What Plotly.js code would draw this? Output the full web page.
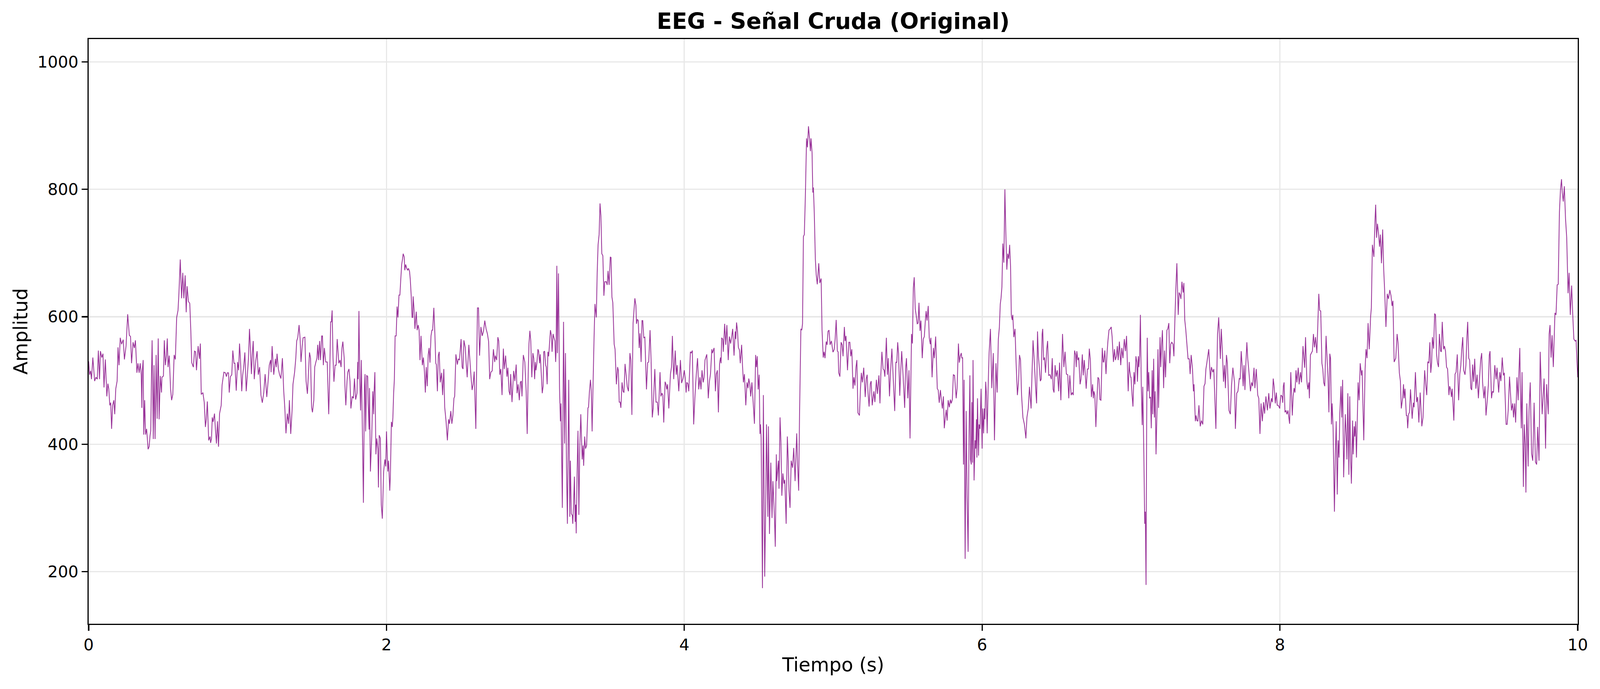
<!DOCTYPE html>
<html>
<head>
<meta charset="utf-8">
<script src="https://cdn.plot.ly/plotly-3.0.1.min.js"></script>
<style>
  html, body { margin: 0; padding: 0; background: #fff; overflow: hidden; }
  #plot { width: 100vw; height: 100vh; }
</style>
</head>
<body>
<div id="plot"></div>
<script>
// EEG raw signal, one second at a time (t in s, amplitude)
const t0 = [
  0.000,0.006,0.013,0.019,0.028,0.040,0.049,0.058,0.065,0.073,
  0.079,0.088,0.096,0.103,0.112,0.122,0.129,0.135,0.142,0.148,
  0.154,0.161,0.169,0.175,0.182,0.191,0.197,0.204,0.212,0.221,
  0.232,0.240,0.251,0.262,0.273,0.281,0.288,0.298,0.307,0.314,
  0.324,0.331,0.339,0.346,0.353,0.357,0.360,0.366,0.370,0.376,
  0.382,0.389,0.393,0.399,0.406,0.412,0.417,0.422,0.426,0.434,
  0.439,0.446,0.453,0.460,0.467,0.473,0.481,0.489,0.492,0.502,
  0.508,0.515,0.522,0.528,0.533,0.541,0.550,0.557,0.565,0.574,
  0.582,0.591,0.600,0.606,0.615,0.624,0.632,0.639,0.648,0.655,
  0.661,0.670,0.679,0.686,0.692,0.703,0.711,0.718,0.724,0.735,
  0.744,0.750,0.756,0.767,0.776,0.784,0.790,0.797,0.806,0.815,
  0.819,0.825,0.830,0.836,0.845,0.851,0.858,0.865,0.872,0.879,
  0.890,0.896,0.908,0.918,0.925,0.931,0.939,0.944,0.952,0.961,
  0.968,0.976,0.982,0.991
];
const a0 = [
  530,509,515,502,536,499,505,502,547,502,
  546,536,542,489,533,475,495,487,461,465,
  424,461,469,447,487,499,552,524,567,557,
  564,533,554,604,571,569,527,560,551,563,
  512,527,512,527,509,457,515,532,415,469,
  415,424,412,392,396,413,421,510,563,408,
  524,408,540,440,566,439,507,481,505,507,
  563,524,539,566,521,539,487,469,478,540,
  533,599,610,636,690,629,669,629,665,607,
  648,624,621,578,528,521,546,545,516,554,
  534,558,478,481,466,427,439,467,406,412,
  402,409,442,435,448,424,401,436,396,448,
  461,493,513,512,506,512,512,481,506,509,
  547,527,527,484
];

const t1 = [
  1.000,1.007,1.013,1.019,1.028,1.034,1.041,1.049,1.058,1.067,
  1.073,1.080,1.086,1.093,1.099,1.105,1.112,1.122,1.131,1.139,
  1.148,1.157,1.166,1.176,1.185,1.196,1.205,1.213,1.222,1.225,
  1.232,1.243,1.254,1.260,1.265,1.274,1.282,1.291,1.301,1.310,
  1.317,1.325,1.334,1.342,1.348,1.357,1.366,1.372,1.383,1.391,
  1.397,1.404,1.413,1.420,1.426,1.434,1.440,1.452,1.460,1.469,
  1.477,1.483,1.490,1.497,1.503,1.512,1.518,1.526,1.533,1.538,
  1.544,1.551,1.557,1.565,1.570,1.576,1.583,1.592,1.602,1.612,
  1.618,1.625,1.630,1.635,1.641,1.647,1.655,1.662,1.669,1.680,
  1.688,1.695,1.701,1.707,1.716,1.721,1.727,1.735,1.740,1.748,
  1.755,1.761,1.770,1.778,1.785,1.793,1.802,1.807,1.810,1.815,
  1.821,1.826,1.831,1.839,1.845,1.852,1.856,1.860,1.867,1.874,
  1.877,1.883,1.886,1.892,1.901,1.908,1.914,1.916,1.922,1.929,
  1.935,1.942,1.946,1.951,1.959,1.965,1.972,1.981,1.989,1.995
];
const a1 = [
  529,516,558,535,483,508,521,544,483,513,
  534,581,552,510,542,562,502,531,546,509,
  521,477,465,481,510,474,499,524,532,513,
  554,509,534,521,542,518,509,503,535,483,
  458,417,448,432,469,416,453,494,513,535,
  562,567,587,565,529,554,567,568,499,479,
  516,544,535,458,450,469,521,529,535,556,
  532,562,532,570,570,524,551,529,529,447,
  499,592,592,610,535,498,524,524,565,527,
  532,521,551,561,535,491,461,499,513,518,
  499,456,475,472,503,470,480,529,502,609,
  497,453,532,409,308,491,510,420,508,506,
  464,423,488,357,412,483,447,477,513,384,
  409,393,332,414,409,305,283,357,376,365
];

const t2 = [
  2.000,2.009,2.014,2.022,2.026,2.033,2.039,2.043,2.048,2.053,
  2.058,2.065,2.071,2.077,2.084,2.090,2.096,2.102,2.108,2.112,
  2.119,2.123,2.129,2.136,2.142,2.148,2.155,2.160,2.166,2.172,
  2.176,2.179,2.185,2.191,2.200,2.206,2.213,2.219,2.225,2.232,
  2.241,2.248,2.255,2.261,2.267,2.274,2.280,2.286,2.292,2.299,
  2.305,2.310,2.318,2.325,2.331,2.335,2.342,2.348,2.354,2.361,
  2.370,2.377,2.385,2.391,2.400,2.409,2.417,2.423,2.432,2.439,
  2.446,2.453,2.458,2.466,2.476,2.482,2.490,2.501,2.508,2.514,
  2.520,2.529,2.535,2.542,2.553,2.561,2.568,2.575,2.582,2.589,
  2.600,2.611,2.618,2.625,2.634,2.643,2.652,2.660,2.669,2.678,
  2.686,2.693,2.701,2.710,2.718,2.727,2.731,2.740,2.748,2.754,
  2.761,2.768,2.776,2.785,2.791,2.800,2.809,2.815,2.823,2.830,
  2.834,2.843,2.854,2.862,2.871,2.877,2.884,2.892,2.899,2.905,
  2.910,2.919,2.929,2.938,2.945,2.951,2.957,2.963,2.969,2.976,
  2.983,2.989,2.995
];
const a2 = [
  420,357,374,327,349,435,427,442,480,502,
  570,570,616,599,634,634,659,682,691,699,
  694,673,682,676,673,676,671,658,633,599,
  599,632,612,581,608,579,587,579,532,570,
  524,536,513,481,521,491,540,551,528,570,
  579,579,614,573,527,525,483,539,545,497,
  512,477,518,458,436,406,439,432,452,432,
  445,472,475,541,525,534,532,565,521,518,
  563,552,528,505,556,529,505,485,494,514,
  424,614,614,539,584,570,578,594,581,573,
  561,502,513,515,549,529,539,532,568,562,
  509,518,477,550,518,539,506,520,483,477,
  510,466,515,499,525,480,494,469,497,499,
  475,540,529,483,416,502,558,578,562,505,
  543,535,502
];

const t3 = [
  3.000,3.004,3.010,3.017,3.022,3.028,3.033,3.039,3.046,3.052,
  3.056,3.062,3.069,3.073,3.079,3.084,3.089,3.095,3.101,3.108,
  3.112,3.119,3.125,3.131,3.136,3.139,3.144,3.148,3.155,3.162,
  3.168,3.172,3.181,3.189,3.196,3.202,3.209,3.215,3.224,3.231,
  3.235,3.241,3.248,3.251,3.256,3.262,3.267,3.271,3.274,3.280,
  3.286,3.292,3.298,3.305,3.314,3.320,3.324,3.331,3.337,3.344,
  3.353,3.357,3.363,3.370,3.375,3.381,3.387,3.394,3.400,3.409,
  3.415,3.421,3.428,3.434,3.440,3.446,3.453,3.460,3.466,3.476,
  3.482,3.488,3.495,3.503,3.508,3.514,3.520,3.529,3.535,3.544,
  3.552,3.557,3.563,3.569,3.574,3.582,3.589,3.595,3.602,3.611,
  3.617,3.625,3.635,3.641,3.648,3.656,3.668,3.675,3.679,3.685,
  3.691,3.697,3.703,3.710,3.716,3.721,3.728,3.735,3.746,3.754,
  3.761,3.770,3.777,3.785,3.791,3.802,3.810,3.819,3.826,3.837,
  3.843,3.850,3.856,3.862,3.871,3.877,3.882,3.888,3.896,3.907,
  3.914,3.920,3.929,3.939,3.946,3.952,3.963,3.974,3.982,3.991
];
const a3 = [
  529,516,527,549,546,527,541,513,480,491,
  545,546,524,521,494,545,538,558,579,570,
  545,573,567,562,529,546,680,543,668,488,
  436,464,300,592,401,543,363,275,501,286,
  374,291,288,275,302,349,278,305,260,354,
  421,289,395,447,376,398,366,412,393,398,
  457,458,483,501,485,420,491,567,620,599,
  669,713,729,778,759,699,696,633,655,655,
  650,672,650,694,693,631,622,557,549,494,
  521,516,466,466,457,497,483,481,526,505,
  490,483,543,532,446,590,629,618,589,596,
  594,551,574,529,594,594,567,568,486,528,
  529,579,532,442,456,518,466,466,445,513,
  475,480,477,434,498,494,486,494,456,510,
  521,570,502,547,509,524,483,532,496,503
];

const t4 = [
  4.000,4.007,4.012,4.017,4.024,4.030,4.034,4.041,4.047,4.054,
  4.063,4.071,4.077,4.084,4.089,4.097,4.105,4.112,4.119,4.127,
  4.133,4.139,4.151,4.161,4.169,4.176,4.185,4.189,4.200,4.209,
  4.215,4.222,4.229,4.237,4.243,4.247,4.251,4.258,4.262,4.271,
  4.278,4.286,4.295,4.303,4.311,4.318,4.325,4.334,4.342,4.346,
  4.351,4.357,4.363,4.370,4.376,4.385,4.391,4.397,4.404,4.413,
  4.421,4.428,4.433,4.440,4.446,4.454,4.465,4.471,4.479,4.484,
  4.490,4.496,4.503,4.508,4.512,4.516,4.525,4.531,4.540,4.546,
  4.552,4.561,4.565,4.572,4.581,4.589,4.595,4.602,4.606,4.611,
  4.618,4.621,4.626,4.632,4.636,4.643,4.649,4.655,4.662,4.669,
  4.675,4.684,4.692,4.698,4.703,4.710,4.718,4.727,4.735,4.744,
  4.755,4.761,4.768,4.774,4.783,4.789,4.794,4.800,4.806,4.813,
  4.821,4.827,4.834,4.841,4.847,4.851,4.858,4.863,4.867,4.873,
  4.880,4.886,4.893,4.903,4.910,4.919,4.925,4.933,4.939,4.945,
  4.953,4.959,4.965,4.972,4.979,4.988,4.998
];
const a4 = [
  516,502,481,497,495,483,505,545,543,547,
  431,472,497,521,535,486,505,486,516,497,
  505,532,541,472,499,510,549,543,551,483,
  510,516,450,527,536,527,567,565,545,589,
  556,587,532,569,558,568,581,539,577,565,
  591,579,552,548,527,556,523,497,510,461,
  497,488,503,494,475,497,456,432,540,521,
  538,486,509,416,431,410,174,477,192,291,
  431,286,428,259,371,284,342,305,281,239,
  384,342,357,374,330,442,404,319,354,338,
  344,275,412,376,327,300,374,363,394,342,
  417,368,327,447,581,579,589,726,729,789,
  880,866,899,880,860,880,858,795,803,762,
  691,666,651,684,653,660,579,536,545,535,
  561,556,577,579,556,562,545
];

const t5 = [
  5.000,5.007,5.013,5.020,5.028,5.033,5.037,5.045,5.053,5.060,
  5.066,5.075,5.080,5.086,5.096,5.105,5.112,5.118,5.125,5.133,
  5.139,5.146,5.153,5.159,5.166,5.172,5.176,5.183,5.189,5.196,
  5.205,5.215,5.222,5.228,5.234,5.241,5.249,5.255,5.262,5.273,
  5.280,5.290,5.297,5.307,5.314,5.320,5.327,5.335,5.342,5.347,
  5.357,5.364,5.370,5.378,5.385,5.394,5.402,5.413,5.421,5.427,
  5.433,5.439,5.447,5.454,5.460,5.469,5.480,5.486,5.492,5.501,
  5.509,5.516,5.526,5.532,5.538,5.544,5.551,5.557,5.564,5.570,
  5.576,5.583,5.589,5.598,5.605,5.612,5.619,5.624,5.630,5.638,
  5.645,5.652,5.656,5.664,5.673,5.679,5.688,5.699,5.705,5.712,
  5.720,5.727,5.733,5.740,5.746,5.753,5.759,5.765,5.772,5.780,
  5.787,5.793,5.800,5.807,5.815,5.820,5.826,5.832,5.841,5.847,
  5.853,5.860,5.864,5.869,5.875,5.879,5.886,5.893,5.899,5.906,
  5.912,5.918,5.922,5.927,5.931,5.936,5.939,5.946,5.953,5.957,
  5.962,5.965,5.969,5.976,5.980,5.986,5.993
];
const a5 = [
  545,549,565,595,546,545,512,506,560,556,
  538,584,562,570,516,560,560,538,549,487,
  505,492,521,532,449,447,445,486,512,497,
  520,474,503,509,480,459,495,499,461,483,
  466,501,479,508,464,510,545,518,516,506,
  567,509,535,475,513,550,509,452,529,528,
  560,542,476,518,546,509,457,518,535,472,
  516,409,573,558,645,662,612,603,589,590,
  622,578,594,535,565,569,595,609,594,617,
  567,557,567,505,551,535,569,487,485,465,
  485,468,456,475,425,442,454,437,469,458,
  470,464,470,509,508,491,472,488,558,528,
  538,543,535,536,368,501,220,452,319,231,
  409,508,376,368,466,371,532,343,406,393,
  439,379,472,382,431,424,487
];

const t6 = [
  6.000,6.004,6.010,6.015,6.019,6.024,6.028,6.034,6.041,6.047,
  6.056,6.065,6.075,6.083,6.093,6.101,6.109,6.116,6.122,6.127,
  6.133,6.139,6.146,6.153,6.159,6.166,6.172,6.179,6.185,6.191,
  6.196,6.202,6.206,6.213,6.221,6.228,6.237,6.245,6.251,6.258,
  6.265,6.274,6.284,6.294,6.301,6.310,6.318,6.329,6.335,6.342,
  6.348,6.353,6.360,6.366,6.372,6.378,6.385,6.391,6.397,6.403,
  6.407,6.413,6.419,6.426,6.434,6.440,6.447,6.456,6.465,6.471,
  6.477,6.483,6.490,6.497,6.505,6.514,6.520,6.529,6.540,6.549,
  6.557,6.566,6.575,6.582,6.589,6.598,6.606,6.612,6.621,6.628,
  6.632,6.636,6.643,6.649,6.658,6.664,6.673,6.679,6.686,6.692,
  6.699,6.707,6.714,6.720,6.727,6.734,6.742,6.747,6.751,6.757,
  6.764,6.772,6.778,6.785,6.791,6.798,6.807,6.813,6.817,6.824,
  6.832,6.839,6.845,6.852,6.860,6.867,6.873,6.882,6.889,6.895,
  6.902,6.908,6.914,6.922,6.931,6.938,6.946,6.955,6.963,6.970,
  6.981,6.988,6.991,6.998
];
const a6 = [
  393,456,417,456,439,498,483,417,494,543,
  581,488,543,406,527,481,565,584,620,629,
  647,715,685,800,735,674,699,691,713,680,
  603,595,603,568,581,529,477,499,540,532,
  477,442,431,409,442,456,490,456,510,563,
  540,518,486,464,577,538,518,499,502,573,
  581,532,536,512,549,562,508,509,502,535,
  486,481,524,506,516,483,528,469,573,521,
  545,510,509,472,508,477,481,477,547,540,
  521,546,532,536,494,502,541,508,532,512,
  487,518,518,550,532,474,494,472,483,477,
  427,475,505,502,470,469,551,529,529,547,
  510,543,562,579,581,584,569,529,549,532,
  538,554,532,561,524,551,535,565,546,570,
  483,529,516,505
];

const t7 = [
  7.000,7.007,7.013,7.020,7.026,7.033,7.039,7.043,7.049,7.053,
  7.058,7.063,7.069,7.075,7.079,7.086,7.092,7.096,7.101,7.105,
  7.109,7.114,7.119,7.125,7.131,7.136,7.142,7.146,7.152,7.157,
  7.162,7.168,7.175,7.181,7.185,7.189,7.195,7.200,7.205,7.211,
  7.219,7.225,7.232,7.241,7.247,7.254,7.260,7.267,7.274,7.282,
  7.288,7.294,7.301,7.308,7.317,7.323,7.329,7.335,7.342,7.350,
  7.355,7.361,7.368,7.374,7.383,7.391,7.397,7.404,7.413,7.419,
  7.423,7.432,7.437,7.443,7.449,7.456,7.465,7.473,7.482,7.490,
  7.497,7.503,7.509,7.514,7.522,7.533,7.540,7.549,7.556,7.570,
  7.581,7.589,7.600,7.606,7.613,7.621,7.628,7.634,7.641,7.647,
  7.658,7.667,7.675,7.684,7.695,7.701,7.710,7.718,7.727,7.733,
  7.740,7.746,7.753,7.759,7.765,7.771,7.778,7.784,7.791,7.802,
  7.810,7.817,7.826,7.832,7.841,7.851,7.858,7.866,7.873,7.882,
  7.890,7.897,7.906,7.916,7.925,7.933,7.943,7.949,7.955,7.961,
  7.969,7.976,7.982,7.989,7.999
];
const a7 = [
  505,477,459,513,494,538,529,498,538,521,
  540,603,491,430,490,387,275,294,179,431,
  567,483,513,472,474,425,516,447,534,442,
  483,384,458,549,457,497,568,521,554,579,
  488,547,505,579,581,590,527,557,560,557,
  538,590,644,684,603,638,635,628,655,638,
  653,595,579,561,534,534,510,540,518,483,
  494,436,445,437,436,461,428,437,431,491,
  495,518,527,536,549,502,521,513,518,424,
  573,599,534,581,549,498,524,488,540,527,
  453,447,492,520,497,424,480,483,503,502,
  546,524,491,524,485,525,560,534,516,483,
  497,491,520,488,518,477,472,416,464,436,
  466,448,475,453,480,456,472,466,503,491,
  464,481,461,461,456
];

const t8 = [
  8.000,8.007,8.015,8.019,8.023,8.028,8.034,8.041,8.047,8.054,
  8.065,8.073,8.083,8.089,8.095,8.101,8.108,8.114,8.123,8.129,
  8.138,8.145,8.155,8.161,8.166,8.172,8.181,8.187,8.194,8.198,
  8.205,8.211,8.218,8.225,8.232,8.239,8.248,8.254,8.261,8.267,
  8.274,8.282,8.288,8.294,8.301,8.310,8.318,8.323,8.329,8.335,
  8.340,8.346,8.351,8.357,8.366,8.372,8.378,8.385,8.391,8.397,
  8.402,8.410,8.415,8.421,8.428,8.439,8.446,8.450,8.456,8.463,
  8.469,8.475,8.480,8.488,8.492,8.499,8.503,8.508,8.514,8.525,
  8.532,8.539,8.548,8.552,8.563,8.572,8.578,8.585,8.592,8.600,
  8.609,8.614,8.621,8.631,8.638,8.643,8.649,8.655,8.662,8.669,
  8.675,8.682,8.690,8.697,8.703,8.712,8.721,8.729,8.738,8.746,
  8.753,8.759,8.767,8.778,8.787,8.793,8.802,8.809,8.815,8.824,
  8.830,8.834,8.840,8.849,8.854,8.858,8.864,8.870,8.877,8.888,
  8.896,8.901,8.910,8.918,8.925,8.933,8.942,8.953,8.961,8.972,
  8.979,8.986,8.993,8.998
];
const a8 = [
  462,477,475,465,491,497,450,453,447,453,
  432,513,445,475,488,481,516,497,520,494,
  513,497,554,535,520,568,499,486,497,472,
  540,543,546,573,552,568,543,584,636,610,
  609,527,518,497,491,570,528,505,450,542,
  535,431,464,426,294,381,436,321,406,379,
  447,491,442,501,348,447,409,376,480,352,
  475,376,338,437,384,428,412,436,379,497,
  469,527,508,516,406,518,549,535,590,549,
  600,614,713,694,748,776,724,746,732,710,
  729,684,737,674,643,584,636,628,642,633,
  617,625,529,535,573,560,512,499,456,472,
  494,472,487,445,445,425,447,450,486,440,
  465,458,513,466,474,434,481,428,442,516,
  494,477,529,529
];

const t9 = [
  9.000,9.007,9.013,9.019,9.024,9.032,9.039,9.045,9.052,9.058,
  9.065,9.071,9.079,9.084,9.090,9.099,9.105,9.112,9.119,9.126,
  9.135,9.140,9.146,9.152,9.157,9.168,9.176,9.183,9.191,9.200,
  9.208,9.215,9.221,9.228,9.234,9.243,9.249,9.256,9.261,9.268,
  9.274,9.282,9.288,9.294,9.301,9.308,9.316,9.324,9.333,9.341,
  9.348,9.355,9.361,9.370,9.377,9.384,9.393,9.400,9.406,9.411,
  9.421,9.427,9.434,9.443,9.452,9.458,9.469,9.477,9.484,9.493,
  9.501,9.507,9.519,9.526,9.533,9.542,9.555,9.563,9.569,9.576,
  9.583,9.592,9.600,9.605,9.611,9.615,9.621,9.626,9.635,9.641,
  9.647,9.652,9.658,9.667,9.673,9.681,9.690,9.698,9.707,9.716,
  9.724,9.731,9.740,9.748,9.755,9.761,9.767,9.774,9.778,9.784,
  9.791,9.802,9.808,9.814,9.821,9.828,9.836,9.847,9.854,9.862,
  9.869,9.877,9.884,9.891,9.896,9.903,9.910,9.918,9.926,9.935,
  9.942,9.950,9.959,9.968,9.974,9.982,9.989,9.995,10.000
];
const a9 = [
  527,560,512,528,568,550,605,603,541,528,
  521,573,546,545,592,549,554,546,521,518,
  477,491,486,474,487,437,510,513,541,469,
  510,524,549,568,516,509,524,570,592,535,
  532,488,485,525,498,534,487,509,472,505,
  532,543,497,472,491,445,470,494,540,546,
  472,483,481,524,502,520,481,513,499,536,
  508,512,431,431,453,506,453,464,442,464,
  434,505,469,513,551,483,425,513,333,431,
  400,324,464,365,453,497,385,374,465,372,
  368,427,374,545,491,447,472,503,466,393,
  494,447,573,587,536,571,521,606,603,650,
  651,764,799,816,795,781,805,754,724,637,
  669,603,649,595,565,562,563,529,505
];

const xTicks = [0, 2, 4, 6, 8, 10];
const yTicks = [200, 400, 600, 800, 1000];

function runPlot() {
    var plotdiv = document.querySelector('#plot');

    // the page is drawn for 4164x1764; scale to whatever the viewport really is
    var W = document.documentElement.clientWidth || 4164;
    var H = document.documentElement.clientHeight || 1764;
    var sx = W / 4164;
    var sy = H / 1764;
    var sf = Math.min(sx, sy);

    var tSegs = [t0, t1, t2, t3, t4, t5, t6, t7, t8, t9];
    var aSegs = [a0, a1, a2, a3, a4, a5, a6, a7, a8, a9];
    var tiempo = [];
    var amplitud = [];
    for (var s = 0; s < tSegs.length; s++) {
        var n = Math.min(tSegs[s].length, aSegs[s].length);
        for (var i = 0; i < n; i++) {
            tiempo.push(tSegs[s][i]);
            amplitud.push(aSegs[s][i]);
        }
    }

    var senal = {
        x: tiempo,
        y: amplitud,
        type: 'scatter',
        mode: 'lines',
        line: { color: 'rgba(128, 0, 128, 0.8)', width: 2.1 * sf, simplify: false },
        hoverinfo: 'skip',
    };

    var font = 'DejaVu Sans, Liberation Sans, sans-serif';

    var axisCommon = {
        showline: true,
        linecolor: '#000',
        linewidth: 3.3 * sf,
        mirror: true,
        ticks: 'outside',
        ticklen: 15 * sf,
        tickwidth: 3.3 * sf,
        tickcolor: '#000',
        showgrid: true,
        gridcolor: '#e8e8e8',
        gridwidth: 3.3 * sf,
        zeroline: false,
        tickfont: { family: font, size: 42 * sf, color: '#000' },
    };

    var layout = {
        width: W,
        height: H,
        margin: { l: 231 * sx, r: 58 * sx, t: 100 * sy, b: 167 * sy, pad: 0 },
        paper_bgcolor: '#fff',
        plot_bgcolor: '#fff',
        showlegend: false,
        hovermode: false,
        title: {
            text: 'EEG - Señal Cruda (Original)',
            font: { family: font, size: 58 * sf, color: '#000', weight: 'bold' },
            xref: 'paper',
            x: 0.5,
            xanchor: 'center',
            yref: 'container',
            y: 1 - 54 / 1764,
            yanchor: 'middle',
        },
        xaxis: Object.assign({}, axisCommon, {
            range: [0, 10],
            tickmode: 'array',
            tickvals: xTicks,
            ticktext: xTicks.map(String),
            ticklabelstandoff: 0,
            title: { text: 'Tiempo (s)', font: { family: font, size: 50 * sf, color: '#000' }, standoff: 12 * sf },
        }),
        yaxis: Object.assign({}, axisCommon, {
            range: [118, 1036],
            tickmode: 'array',
            tickvals: yTicks,
            ticktext: yTicks.map(String),
            ticklabelstandoff: 3 * sf,
            title: { text: 'Amplitud', font: { family: font, size: 50 * sf, color: '#000' }, standoff: 10 * sf },
        }),
    };

    var config = { displayModeBar: false, staticPlot: true };

    Plotly.newPlot(plotdiv, [senal], layout, config);
}

runPlot();
</script>
</body>
</html>
